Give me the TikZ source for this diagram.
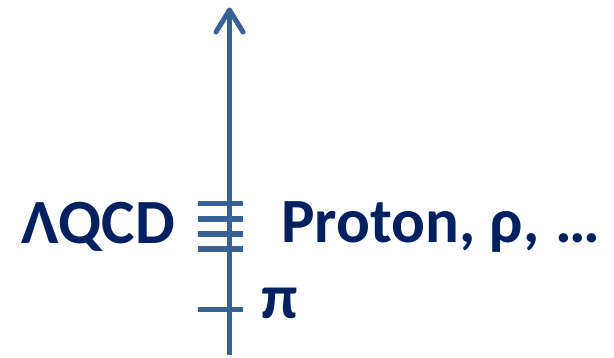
\documentclass[tikz,border=0pt]{standalone}
\usepackage{fontspec}
\setmainfont{Carlito}
\definecolor{axisblue}{RGB}{56,98,150}
\definecolor{textnavy}{RGB}{0,32,96}
\begin{document}
\begin{tikzpicture}[x=1pt,y=-1pt,
  axisline/.style={draw=axisblue,line width=5pt},
  tickline/.style={draw=axisblue,line width=5.5pt},
  tiphead/.style={draw=axisblue,line width=5pt,line cap=round,line join=round},
  lbl/.style={text=textnavy,font=\fontsize{63}{70}\selectfont\bfseries,inner sep=0pt,anchor=base west}]
\useasboundingbox (0,0) rectangle (614,357);
% axis
\coordinate (bottom) at (229.5,355);
\coordinate (top) at (229.5,10);
\coordinate (wl) at (216,32);
\coordinate (wr) at (243,32);
\draw[axisline] (bottom) -- (top);
\draw[tiphead] (wl) -- (top) -- (wr);
% ticks
\foreach \y/\n in {203.5/a,219/b,234/c,249/d,309.5/pi}{
  \coordinate (t\n l) at (198,\y);
  \coordinate (t\n r) at (243,\y);
  \draw[tickline] (t\n l) -- (t\n r);
}
% labels
\node[lbl] (lqcd) at (21,243) {ΛQCD};
\node[lbl] (proton) at (281,242.5) {Proton, ρ, \kern2pt…};
\node[lbl] (pion) at (261,318) {π};
\end{tikzpicture}
\end{document}
